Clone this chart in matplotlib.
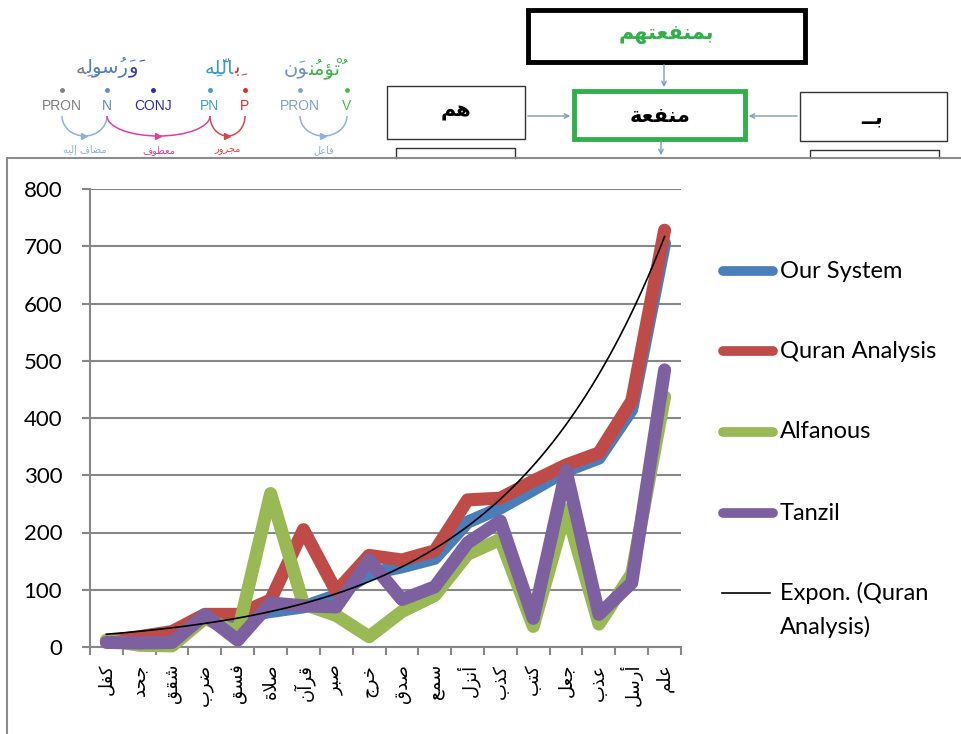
import unicodedata
import matplotlib
matplotlib.use("Agg")
import matplotlib.pyplot as plt
import numpy as np
from matplotlib.patches import Rectangle, Arc, FancyArrowPatch
from matplotlib.offsetbox import TextArea, HPacker, AnnotationBbox

plt.rcParams["font.family"] = ["Lato", "DejaVu Sans"]

# ---- data ----
roots = ["كفل", "جحد", "شقق", "ضرب", "فسق", "صلاة", "قرآن", "صبر", "خرج",
         "صدق", "سمع", "أنزل", "كذب", "كتب", "جعل", "عذب", "أرسل", "علم"]
our_system = [10, 12, 18, 55, 52, 62, 70, 90, 128, 140, 155, 218, 243, 275, 308, 330, 415, 705]
quran_analysis = [10, 18, 27, 57, 57, 82, 205, 97, 160, 152, 168, 257, 260, 290, 318, 339, 430, 728]
alfanous = [12, 3, 2, 50, 25, 268, 75, 55, 18, 62, 90, 162, 188, 36, 240, 40, 128, 437]
tanzil = [8, 7, 8, 56, 12, 77, 72, 70, 152, 83, 105, 182, 220, 50, 308, 57, 112, 484]
y_ticks = [0, 100, 200, 300, 400, 500, 600, 700, 800]
series_names = ["Our System", "Quran Analysis", "Alfanous", "Tanzil"]

C = dict(our="#4a7ebb", quran="#be4b48", alf="#98b954", tan="#7d60a0", grid="#878787")

# ---- tiny arabic shaper (presentation forms, visual order) ----
FORMS = {
    "آ": "\ufe81\ufe82", "أ": "\ufe83\ufe84", "ؤ": "\ufe85\ufe86", "إ": "\ufe87\ufe88",
    "ئ": "\ufe89\ufe8a\ufe8b\ufe8c", "ا": "\ufe8d\ufe8e", "ب": "\ufe8f\ufe90\ufe91\ufe92",
    "ة": "\ufe93\ufe94", "ت": "\ufe95\ufe96\ufe97\ufe98", "ث": "\ufe99\ufe9a\ufe9b\ufe9c",
    "ج": "\ufe9d\ufe9e\ufe9f\ufea0", "ح": "\ufea1\ufea2\ufea3\ufea4", "خ": "\ufea5\ufea6\ufea7\ufea8",
    "د": "\ufea9\ufeaa", "ذ": "\ufeab\ufeac", "ر": "\ufead\ufeae", "ز": "\ufeaf\ufeb0",
    "س": "\ufeb1\ufeb2\ufeb3\ufeb4", "ش": "\ufeb5\ufeb6\ufeb7\ufeb8", "ص": "\ufeb9\ufeba\ufebb\ufebc",
    "ض": "\ufebd\ufebe\ufebf\ufec0", "ط": "\ufec1\ufec2\ufec3\ufec4", "ع": "\ufec9\ufeca\ufecb\ufecc",
    "ف": "\ufed1\ufed2\ufed3\ufed4", "ق": "\ufed5\ufed6\ufed7\ufed8", "ك": "\ufed9\ufeda\ufedb\ufedc",
    "ل": "\ufedd\ufede\ufedf\ufee0", "م": "\ufee1\ufee2\ufee3\ufee4", "ن": "\ufee5\ufee6\ufee7\ufee8",
    "ه": "\ufee9\ufeea\ufeeb\ufeec", "و": "\ufeed\ufeee", "ي": "\ufef1\ufef2\ufef3\ufef4",
    "ـ": "\u0640" * 4,
}
LAMALEF = {"ا": "\ufefb\ufefc", "أ": "\ufef7\ufef8", "إ": "\ufef9\ufefa", "آ": "\ufef5\ufef6"}
# quranic marks the installed fonts lack -> nearest standard spelling
SUBST = {"\u06e1": "\u0652", "\u06e6": "", "\u0671": "\u0627"}


def shape(word):
    word = "".join(SUBST.get(ch, ch) for ch in word)
    cl = []
    for ch in word:
        if unicodedata.combining(ch) and cl:
            cl[-1][1] += ch
        elif cl and cl[-1][0] == "ل" and ch in LAMALEF:
            cl[-1][0] = "LA" + ch
        else:
            cl.append([ch, ""])
    frm = lambda b: LAMALEF[b[2]] if b.startswith("LA") else FORMS.get(b)
    res = []
    for i, (b, m) in enumerate(cl):
        f = frm(b)
        if f is None:
            res.append(b + m); continue
        jp = i > 0 and frm(cl[i - 1][0]) is not None and len(frm(cl[i - 1][0])) == 4
        jn = len(f) == 4 and i + 1 < len(cl) and frm(cl[i + 1][0]) is not None
        res.append(f[3 if jp and jn else 2 if jn else 1 if jp else 0] + m)
    return res


def ar(text):
    return " ".join("".join(reversed(shape(w))) for w in reversed(text.split(" ")))


def ar_colored(pieces, x, y, fs, bold=False):
    cl = shape("".join(p for p, _ in pieces))
    out, k = [], 0
    for p, c in pieces:
        p = "".join(SUBST.get(ch, ch) for ch in p)
        n = sum(1 for ch in p if not unicodedata.combining(ch))
        out.append(("".join(reversed(cl[k:k + n])), c)); k += n
    kids = [TextArea(s, textprops=dict(color=c, fontsize=fs, family="DejaVu Sans",
                                       weight="bold" if bold else "normal"))
            for s, c in reversed(out)]
    pack = HPacker(children=kids, align="baseline", pad=0, sep=0)
    bg.add_artist(AnnotationBbox(pack, (x, y), xycoords="data", frameon=False,
                                 box_alignment=(0.5, 0.5), pad=0))


W, H = 962, 734
fig = plt.figure(figsize=(W / 100, H / 100), dpi=100)
bg = fig.add_axes([0, 0, 1, 1])
bg.set_xlim(0, W); bg.set_ylim(H, 0); bg.axis("off")

# ── top-left: dependency diagram ──
ar_colored([("وَ", "#3a3aa8"), ("رَسُولِ", "#4f7fc0"), ("هِۦ", "#7a7a8a")], 107, 68, 14)
ar_colored([("بِ", "#d83030"), ("ٱللَّهِ", "#3a9cc4")], 222, 68, 14)
ar_colored([("تُؤۡمِنُ", "#3fb24a"), ("ونَ", "#6f8fc8")], 312, 68, 14)

tags = [("PRON", 62, "#7f7f7f"), ("N", 107, "#5a8fc8"), ("CONJ", 153, "#2a2ab0"),
        ("PN", 210, "#3aa0c8"), ("P", 245, "#e02828"), ("PRON", 300, "#7f9fd8"), ("V", 347, "#4cb84c")]
for t, x, c in tags:
    bg.plot(x, 90, "o", ms=2.5, color=c)
    bg.text(x, 106, t, ha="center", va="center", fontsize=10, color=c, family="Liberation Sans")

for x1, x2, c, lab in [(62, 107, "#8fb0dc", "مضاف إليه"), (107, 210, "#e0409a", "معطوف"),
                       (210, 245, "#d84848", "مجرور"), (300, 347, "#8fb0dc", "فاعل")]:
    cx = (x1 + x2) / 2
    bg.add_patch(Arc((cx, 116), x2 - x1, 40, theta1=0, theta2=180, color=c, lw=1.1))
    bg.plot(cx, 136, marker=">", ms=4, color=c)
    bg.text(cx, 150, ar(lab), ha="center", va="center", fontsize=7, color=c, family="DejaVu Sans")

# ── top-right: morphology boxes ──
bg.add_patch(Rectangle((528, 10), 277, 52, fc="white", ec="black", lw=3.5))
bg.text(666, 34, ar("بمنفعتهم"), ha="center", va="center", fontsize=15, weight="bold",
        color="#2fb04a", family="DejaVu Sans")
bg.add_patch(Rectangle((574, 91), 171, 48, fc="white", ec="#2fb04a", lw=3.5))
bg.text(660, 116, ar("منفعة"), ha="center", va="center", fontsize=15, weight="bold",
        color="black", family="DejaVu Sans")
bg.add_patch(Rectangle((387, 86), 138, 53, fc="white", ec="#333333", lw=1))
bg.text(456, 111, ar("هم"), ha="center", va="center", fontsize=15, weight="bold", family="DejaVu Sans")
bg.add_patch(Rectangle((800, 92), 147, 49, fc="white", ec="#333333", lw=1))
bg.text(872, 117, ar("بــ"), ha="center", va="center", fontsize=15, weight="bold", family="DejaVu Sans")
for p1, p2 in [((664, 62), (664, 90)), ((525, 116), (573, 116)), ((800, 116), (746, 116)),
               ((661, 139), (661, 158))]:
    bg.add_patch(FancyArrowPatch(p1, p2, arrowstyle="->", mutation_scale=8, color="#7f9bb8", lw=1))
for x1, x2, yt in [(396, 515, 148), (810, 939, 150)]:
    bg.plot([x1, x1, x2, x2], [158, yt, yt, 158], color="#333333", lw=1)

# chart frame
bg.plot([7, 7, W], [H, 158, 158], color="#8c8c8c", lw=1.5, solid_joinstyle="miter")

# ── chart ──
ax = fig.add_axes([90 / W, (H - 647) / H, 591 / W, 458 / H])
x = np.arange(len(roots))
for vals, col in [(our_system, C["our"]), (quran_analysis, C["quran"]),
                  (alfanous, C["alf"]), (tanzil, C["tan"])]:
    ax.plot(x, vals, color=col, lw=9.4, solid_capstyle="round", solid_joinstyle="round",
            clip_on=False, zorder=3)

b, ln_a = np.polyfit(x + 1, np.log(quran_analysis), 1)
xs = np.linspace(0, len(roots) - 1, 200)
ax.plot(xs, np.exp(ln_a + b * (xs + 1)), color="black", lw=1.2, zorder=4, clip_on=False)

ax.set_xlim(-0.5, len(roots) - 0.5)
ax.set_ylim(0, 800)
ax.set_yticks(y_ticks)
ax.yaxis.grid(True, color=C["grid"], lw=1.5)
ax.set_axisbelow(True)
ax.tick_params(axis="y", length=6, width=1.5, color=C["grid"], pad=14, labelsize=16)
ax.set_xticks(x)
ax.set_xticklabels([ar(r) for r in roots], rotation=90, va="top", ha="center",
                   fontsize=13, family="DejaVu Sans")
ax.set_xticks(np.arange(-0.5, len(roots), 1), minor=True)
ax.tick_params(axis="x", which="major", length=0, pad=12)
ax.tick_params(axis="x", which="minor", length=6, width=1.5, color=C["grid"])
for s in ("top", "right"):
    ax.spines[s].set_visible(False)
for s in ("left", "bottom"):
    ax.spines[s].set_color(C["grid"]); ax.spines[s].set_linewidth(1.5)

# legend (drawn by hand in pixel coords)
for name, col, yy in zip(series_names, [C["our"], C["quran"], C["alf"], C["tan"]],
                         [271, 351, 432, 513]):
    bg.plot([723, 773], [yy, yy], color=col, lw=7, solid_capstyle="round")
    bg.text(780, yy, name, ha="left", va="center", fontsize=17)
bg.plot([722, 770], [593, 593], color="black", lw=1.2)
bg.text(780, 593, "Expon. (Quran", ha="left", va="center", fontsize=17)
bg.text(780, 627, "Analysis)", ha="left", va="center", fontsize=17)

fig.savefig("out.png", dpi=100)
